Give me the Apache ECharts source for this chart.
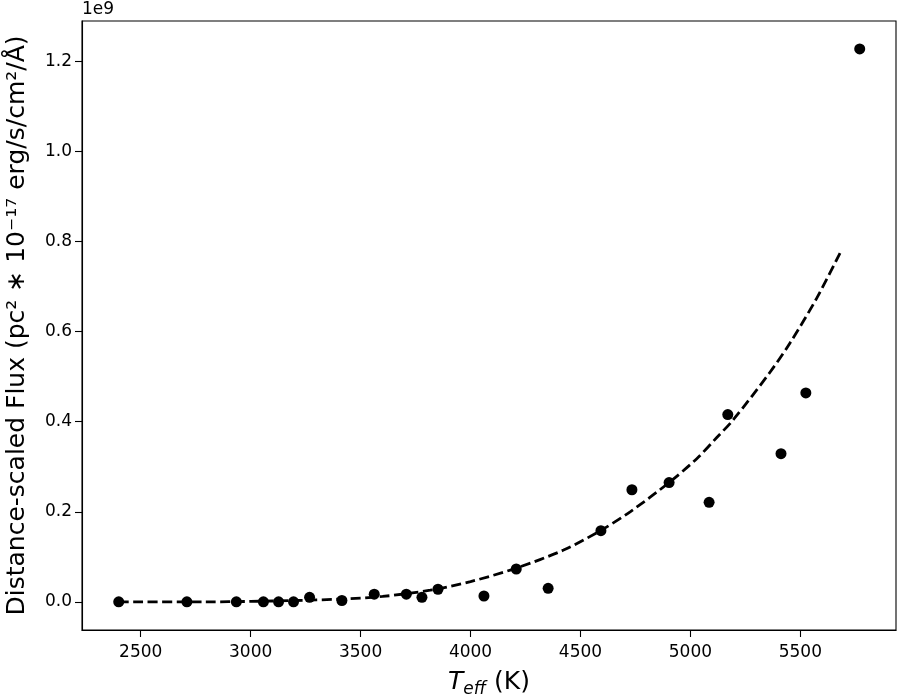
<!DOCTYPE html>
<html>
<head>
<meta charset="utf-8">
<script src="https://cdn.jsdelivr.net/npm/echarts@6/dist/echarts.min.js"></script>
<style>
html,body{margin:0;padding:0;background:#fff;}
#chart{width:900px;height:694px;}
</style>
</head>
<body>
<div id="chart"></div>
<script>
// Observed stars: effective temperature (K) and distance-scaled flux (units of 1e9)
const teff = [2400, 2710, 2935, 3058, 3127, 3195, 3268, 3415, 3562, 3708, 3779, 3852,
              4061, 4208, 4353, 4593, 4734, 4903, 5085, 5170, 5412, 5525, 5770];
const flux = [0.000, 0.000, 0.000, 0.000, 0.000, 0.000, 0.010, 0.003, 0.017, 0.017, 0.010, 0.028,
              0.013, 0.073, 0.030, 0.158, 0.249, 0.265, 0.221, 0.416, 0.329, 0.464, 1.228];

// Dashed fit curve
const fitT    = [2400, 2800, 3000, 3200, 3400, 3600, 3817, 4000, 4208, 4423, 4590, 4726,
                 4903, 5029, 5120, 5196, 5362, 5453, 5574, 5684];
const fitFlux = [0.000, 0.000, 0.001, 0.003, 0.006, 0.012, 0.026, 0.045, 0.075, 0.115, 0.158, 0.200,
                 0.265, 0.318, 0.365, 0.405, 0.510, 0.575, 0.674, 0.778];

const xTicks = [2500, 3000, 3500, 4000, 4500, 5000, 5500];
const yTicks = [0.0, 0.2, 0.4, 0.6, 0.8, 1.0, 1.2];

const font = 'DejaVu Sans';
const chart = echarts.init(document.getElementById('chart'), null, {renderer: 'canvas'});

chart.setOption({
  animation: false,
  backgroundColor: '#ffffff',
  textStyle: {fontFamily: font},
  grid: {left: 82, right: 4, top: 21, bottom: 64, show: true, borderColor: '#000', borderWidth: 1.1,
         containLabel: false, outerBoundsMode: 'none'},
  xAxis: {
    type: 'value', min: 2233, max: 5935,
    splitLine: {show: false},
    axisLine: {show: true, onZero: false, lineStyle: {color: '#000', width: 1.1}},
    axisTick: {show: true, length: 7, lineStyle: {color: '#000', width: 1.1}, customValues: xTicks},
    axisLabel: {color: '#000', fontSize: 17, fontFamily: font, margin: 14, customValues: xTicks,
                formatter: v => String(Math.round(v))},
    name: '{t|T}{s|eff}{n| (K)}',
    nameLocation: 'middle', nameGap: 36,
    nameTextStyle: {
      fontFamily: font,
      rich: {
        t: {fontSize: 25, fontStyle: 'italic', fontFamily: font, color: '#000', lineHeight: 32, verticalAlign: 'middle'},
        s: {fontSize: 17, fontStyle: 'italic', fontFamily: font, color: '#000', lineHeight: 17, verticalAlign: 'bottom'},
        n: {fontSize: 25, fontFamily: font, color: '#000', lineHeight: 32, verticalAlign: 'middle'}
      }
    }
  },
  yAxis: {
    type: 'value', min: -0.0625, max: 1.290,
    splitLine: {show: false},
    axisLine: {show: true, onZero: false, lineStyle: {color: '#000', width: 1.1}},
    axisTick: {show: true, length: 7, lineStyle: {color: '#000', width: 1.1}, customValues: yTicks},
    axisLabel: {color: '#000', fontSize: 17, fontFamily: font, margin: 10, customValues: yTicks,
                formatter: v => v.toFixed(1)},
    name: 'Distance-scaled Flux (pc² ∗ 10⁻¹⁷ erg/s/cm²/Å)',
    nameLocation: 'middle', nameGap: 52, nameRotate: 90,
    nameTextStyle: {fontFamily: font, fontSize: 25, color: '#000'}
  },
  graphic: [{
    type: 'text', left: 82, top: 1,
    style: {text: '1e9', fontFamily: font, fontSize: 17, fill: '#000'}
  }],
  series: [
    {
      type: 'line',
      data: fitT.map((t, i) => [t, fitFlux[i]]),
      smooth: 0.3,
      symbol: 'none',
      lineStyle: {color: '#000', width: 2.8, type: [10, 4.5]},
      z: 3
    },
    {
      type: 'scatter',
      data: teff.map((t, i) => [t, flux[i]]),
      symbol: 'circle',
      symbolSize: 11,
      itemStyle: {color: '#000', opacity: 1},
      z: 4
    }
  ]
});
</script>
</body>
</html>
